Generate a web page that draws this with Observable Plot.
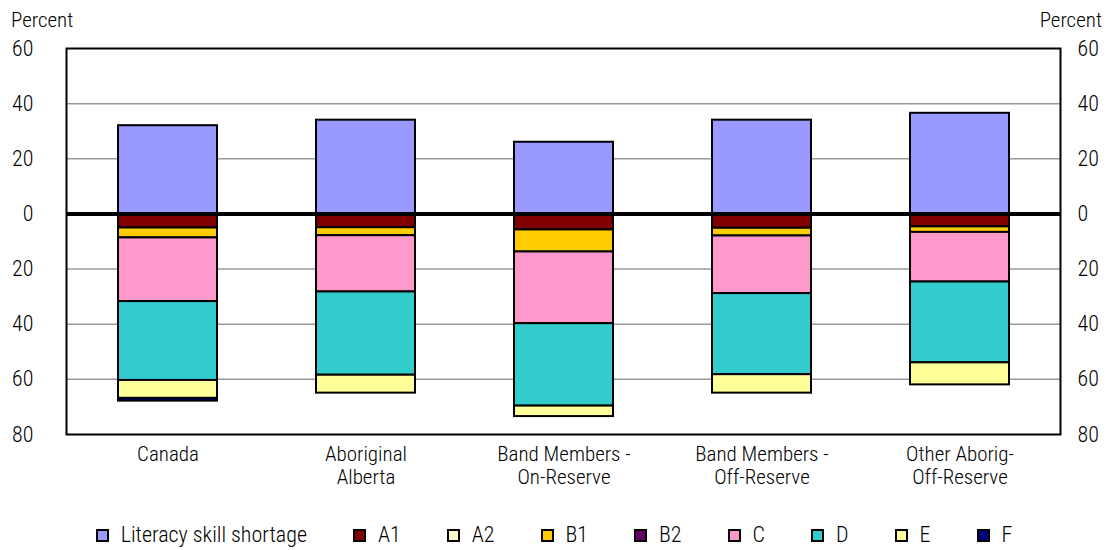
<!DOCTYPE html>
<html><head><meta charset="utf-8">
<script src="https://cdn.jsdelivr.net/npm/d3@7"></script>
<script src="https://cdn.jsdelivr.net/npm/@observablehq/plot@0.6"></script>
<style>
body{margin:0;background:#fff;font-family:"Roboto Condensed","Arial Narrow","Liberation Sans Narrow","DejaVu Sans Condensed",sans-serif;font-weight:300;}
#wrap{position:relative;width:1108px;height:550px;overflow:hidden;}
.pct{position:absolute;top:8px;font-size:21px;color:#000;}
#legend{display:flex;justify-content:center;align-items:center;height:34px;padding-top:8px;font-size:22px;line-height:26px;color:#000;}
.item{display:flex;align-items:center;margin:0 23px;}
.sw{width:13px;height:13px;border:2px solid #000;margin-right:12px;box-sizing:border-box;}
svg text{font-weight:300;}
</style>
</head><body>
<div id="wrap">
<div class="pct" style="left:11px">Percent</div>
<div class="pct" style="right:6px">Percent</div>
<div id="chart"></div>
<div id="legend"></div>
</div>
<script>
const categories = ["Canada","Aboriginal\nAlberta","Band Members -\nOn-Reserve","Band Members -\nOff-Reserve","Other Aborig-\nOff-Reserve"];
const seriesNames = ["Literacy skill shortage","A1","A2","B1","B2","C","D","E","F"];
const seriesColors = ["#9999FF","#800000","#FFFFCC","#FFCC00","#660066","#FF99CC","#33CCCC","#FFFF99","#000080"];
const literacy = [32, 34, 26, 34, 36.5];
const a1 = [5.1, 5.0, 5.8, 5.2, 4.7];
const a2 = [0, 0, 0, 0, 0];
const b1 = [3.6, 2.9, 8.0, 2.8, 2.0];
const b2 = [0, 0, 0, 0, 0];
const c = [23.1, 20.4, 26.0, 20.9, 18.0];
const d = [28.6, 30.2, 29.9, 29.4, 29.3];
const e = [6.5, 6.5, 3.8, 6.7, 8.0];
const f = [1.0, 0, 0, 0, 0];
const yTicks = [-80,-60,-40,-20,0,20,40,60];
const gridTicks = [-60,-40,-20,20,40];

const seriesValues = [literacy, a1, a2, b1, b2, c, d, e, f];
const data = [];
categories.forEach((cat, i) => {
  seriesNames.forEach((s, j) => {
    const v = seriesValues[j][i];
    if (v !== 0) data.push({category: cat, series: s, value: j === 0 ? v : -v});
  });
});

const font = '"Roboto Condensed","Arial Narrow","Liberation Sans Narrow","DejaVu Sans Condensed",sans-serif';
const chart = Plot.plot({
  width: 1108, height: 510,
  marginTop: 48, marginBottom: 76, marginLeft: 66, marginRight: 48,
  style: {fontFamily: font, fontSize: "21px", color: "#000", background: "#fff", overflow: "visible"},
  x: {domain: categories, paddingInner: 0.5, paddingOuter: 0.25, label: null},
  y: {domain: [-80, 60], label: null},
  color: {domain: seriesNames, range: seriesColors},
  marks: [
    Plot.ruleY(gridTicks, {stroke: "#999", strokeWidth: 1.5}),
    Plot.barY(data, {x: "category", y: "value", fill: "series", stroke: "#000", strokeWidth: 2, order: seriesNames}),
    Plot.ruleY([0], {stroke: "#000", strokeWidth: 4}),
    Plot.frame({stroke: "#000", strokeWidth: 2}),
    Plot.axisY({anchor: "left", ticks: yTicks, tickFormat: v => Math.abs(v), tickSize: 0, tickPadding: 33, label: null, fontSize: 22}),
    Plot.axisY({anchor: "right", ticks: yTicks, tickFormat: v => Math.abs(v), tickSize: 0, tickPadding: 17, label: null, fontSize: 22}),
    Plot.axisX({tickSize: 0, tickPadding: 10, label: null, lineHeight: 1.1, fontSize: 21})
  ]
});
document.getElementById("chart").appendChild(chart);

const legend = document.getElementById("legend");
seriesNames.forEach((s, j) => {
  const it = document.createElement("div");
  it.className = "item";
  const sw = document.createElement("div");
  sw.className = "sw";
  sw.style.background = seriesColors[j];
  const t = document.createElement("span");
  t.textContent = s;
  it.appendChild(sw); it.appendChild(t);
  legend.appendChild(it);
});
</script>
</body></html>
